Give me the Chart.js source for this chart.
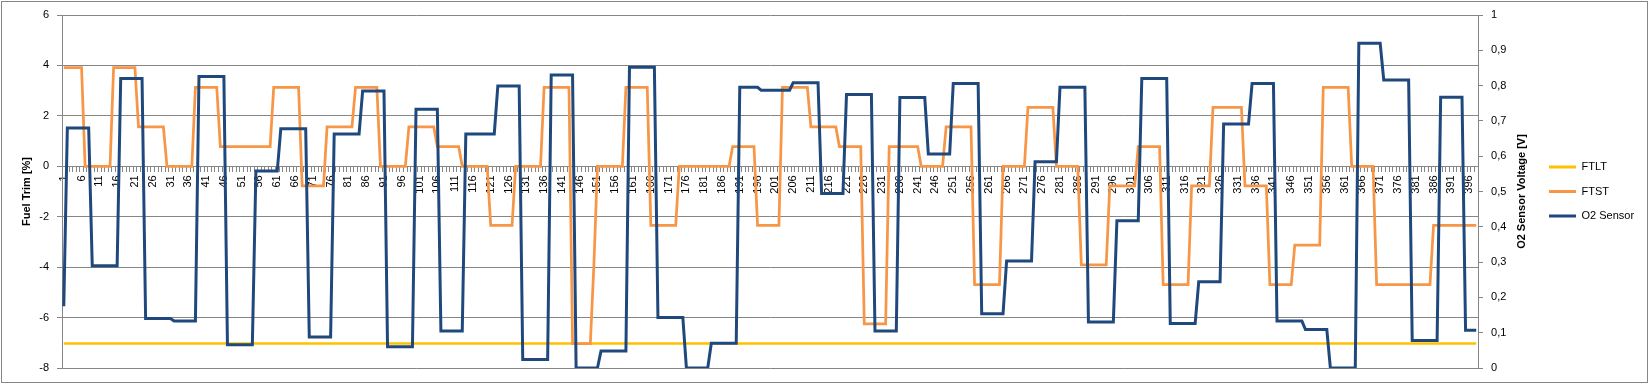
<!DOCTYPE html>
<html><head><meta charset="utf-8">
<script src="https://cdn.jsdelivr.net/npm/chart.js@4.4.1/dist/chart.umd.min.js"></script>
<style>html,body{margin:0;padding:0;background:#fff}canvas{display:block}</style>
</head><body>
<canvas id="c" width="1649" height="384"></canvas>
<script>
// ---- data ----
const sampleCount = 398;
const categories = Array.from({length: sampleCount}, (_, i) => String(i + 1));

// FTLT is constant over the whole log
const ftltLevel = -7.03;

// FTST: level of each step and number of samples it lasts
const ftstLevels = [3.91,0,3.91,1.56,0,3.13,0.78,3.13,-0.78,1.56,3.13,0,1.56,0.78,0,-2.34,0,3.13,-7.03,-3.91,0,3.13,-2.34,0,0.78,-2.34,3.13,1.56,0.78,-6.25,0.78,0,1.56,-4.69,0,2.34,0,-3.91,-0.78,0.78,-4.69,-0.78,2.34,-0.78,-4.69,-3.13,3.13,0,-4.69,-2.34];
const ftstRuns   = [6,8,7,8,8,7,15,8,7,8,7,8,8,7,8,7,8,8,6,1,8,7,8,15,7,7,8,8,7,7,9,7,8,8,7,8,7,8,8,7,8,6,9,7,7,8,8,7,16,13];

// O2 sensor voltage: level of each step and number of samples it lasts
const o2Levels = [0.175,0.68,0.29,0.82,0.14,0.133,0.826,0.066,0.558,0.678,0.088,0.663,0.785,0.06,0.733,0.105,0.663,0.799,0.024,0.83,0,0.048,0.852,0.143,0,0.07,0.795,0.787,0.808,0.494,0.775,0.105,0.766,0.606,0.806,0.154,0.303,0.584,0.795,0.13,0.417,0.82,0.126,0.244,0.691,0.806,0.133,0.109,0,0.92,0.816,0.078,0.767,0.107];
const o2Runs   = [1,7,8,7,8,7,8,8,7,8,7,8,7,8,7,7,9,7,8,7,7,8,8,8,7,8,6,9,8,7,8,7,8,7,8,7,8,7,8,8,7,8,8,7,8,7,8,7,8,7,8,8,7,4];

const fuelTrimTickLabels = ['-8','-6','-4','-2','0','2','4','6'];
const o2TickLabels = ['0','0,1','0,2','0,3','0,4','0,5','0,6','0,7','0,8','0,9','1'];
const fuelTrimTitle = 'Fuel Trim [%]';
const o2Title = 'O2 Sensor Voltage [V]';

function expandRuns(levels, runs) {
  const out = [];
  levels.forEach((v, k) => { for (let j = 0; j < runs[k]; j++) out.push(v); });
  return out;
}
const ftltSeries = categories.map(() => ftltLevel);
const ftstSeries = expandRuns(ftstLevels, ftstRuns);
const o2Series = expandRuns(o2Levels, o2Runs);

// ---- chart ----
const FONT = "'Liberation Sans', Arial, sans-serif";
const GRID = '#868686';
Chart.defaults.font.family = FONT;
Chart.defaults.font.size = 11;
Chart.defaults.color = '#000';

const framePlugin = {
  id: 'frame',
  afterDraw(chart) {
    const ctx = chart.ctx;
    const s = chart.scales.y1;
    ctx.save();
    ctx.strokeStyle = GRID;
    ctx.lineWidth = 1;
    ctx.strokeRect(1.5, 1.5, chart.width - 3, chart.height - 3);
    ctx.translate(s.left + 44, (chart.chartArea.top + chart.chartArea.bottom) / 2);
    ctx.rotate(-Math.PI / 2);
    ctx.font = 'bold 11px ' + FONT;
    ctx.fillStyle = '#000';
    ctx.textAlign = 'center';
    ctx.textBaseline = 'middle';
    ctx.fillText(o2Title, 0, 0);
    ctx.restore();
  }
};

new Chart(document.getElementById('c'), {
  type: 'line',
  data: {
    labels: categories,
    datasets: [
      {label: 'FTLT', data: ftltSeries, borderColor: '#FFC000', backgroundColor: '#FFC000', borderWidth: 2.5, yAxisID: 'y', order: 2},
      {label: 'FTST', data: ftstSeries, borderColor: '#F79646', backgroundColor: '#F79646', borderWidth: 2.75, yAxisID: 'y', order: 1},
      {label: 'O2 Sensor', data: o2Series, borderColor: '#1F497D', backgroundColor: '#1F497D', borderWidth: 3, yAxisID: 'y1', order: 0}
    ]
  },
  options: {
    responsive: false,
    animation: false,
    devicePixelRatio: 1,
    elements: {point: {radius: 0}, line: {tension: 0, fill: false}},
    layout: {padding: {left: 0, top: 15, right: 4.9, bottom: 16}},
    plugins: {
      tooltip: {enabled: false},
      legend: {
        position: 'right',
        labels: {
          boxWidth: 27, boxHeight: 3, padding: 13.5,
          font: {size: 11, family: FONT}, color: '#000',
          sort: (a, b) => a.datasetIndex - b.datasetIndex,
          generateLabels(chart) {
            return chart.data.datasets.map((d, i) => ({
              text: d.label, fillStyle: d.borderColor, strokeStyle: d.borderColor,
              lineWidth: 0, hidden: false, datasetIndex: i, fontColor: '#000'
            }));
          }
        }
      }
    },
    scales: {
      x: {
        type: 'category',
        position: {y: 0},
        offset: true,
        grid: {display: true, drawOnChartArea: false, drawTicks: true, tickLength: 5, color: GRID, offset: true},
        border: {display: true, color: GRID, width: 1},
        ticks: {
          autoSkip: false, minRotation: 90, maxRotation: 90, padding: 4,
          font: {size: 11}, color: '#000',
          callback: function (v, i) { return i % 5 === 0 ? this.getLabelForValue(v) : ''; }
        }
      },
      y: {
        position: 'left',
        min: -8, max: 6,
        ticks: {stepSize: 2, padding: 8, font: {size: 11}, color: '#000',
          callback: (v, i) => fuelTrimTickLabels[i]},
        grid: {color: GRID, lineWidth: 1, drawTicks: true, tickLength: 5},
        border: {display: true, color: GRID},
        title: {display: true, text: fuelTrimTitle, font: {size: 11, weight: 'bold'}, color: '#000', padding: {top: 20, bottom: 0}},
        afterFit(s) { s.width = 62; }
      },
      y1: {
        position: 'right',
        min: 0, max: 1,
        ticks: {stepSize: 0.1, padding: 8, font: {size: 11}, color: '#000',
          callback: (v, i) => o2TickLabels[i]},
        grid: {drawOnChartArea: false, drawTicks: true, tickLength: 5, color: GRID},
        border: {display: true, color: GRID},
        title: {display: false},
        afterFit(s) { s.width = 57.5; }
      }
    }
  },
  plugins: [framePlugin]
});
</script>
</body></html>
